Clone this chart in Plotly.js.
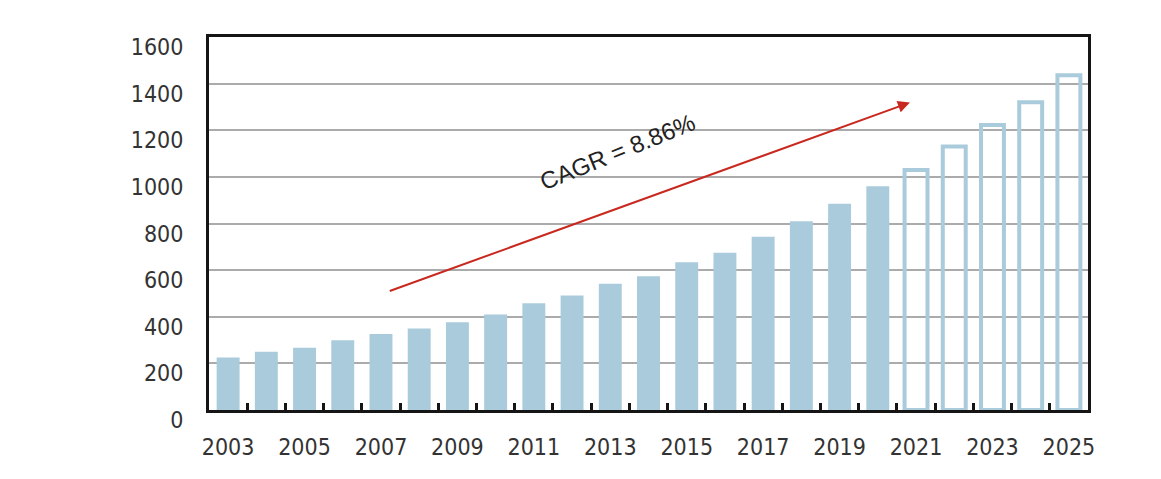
<!DOCTYPE html>
<html>
<head>
<meta charset="utf-8">
<script src="https://cdn.plot.ly/plotly-3.0.1.min.js"></script>
<style>html,body{margin:0;padding:0;background:#fff;}#chart{width:1161px;height:479px;}</style>
</head>
<body>
<div id="chart"></div>
<script>
// Data
const actualYears = [2003,2004,2005,2006,2007,2008,2009,2010,2011,2012,2013,2014,2015,2016,2017,2018,2019,2020];
const actualValues = [225,250,267,299,326,350,376,410,458,491,542,574,634,675,743,810,885,960];
const forecastYears = [2021,2022,2023,2024,2025];
const forecastValues = [1030,1130,1222,1320,1436];
const xTickYears = [2003,2005,2007,2009,2011,2013,2015,2017,2019,2021,2023,2025];
const xTickLabels = ["2003","2005","2007","2009","2011","2013","2015","2017","2019","2021","2023","2025"];
const yTickValues = [0,200,400,600,800,1000,1200,1400,1600];
const cagrLabel = "CAGR = 8.86%";
const cagrArrowFrom = [2007.19, 508];
const cagrArrowTo = [2020.84, 1319];
const cagrLabelAt = [2013.2, 1110];

const barColor = '#a9cbdc';
const axisColor = '#151515';
const tickFont = {family: '"DejaVu Sans Condensed", "Liberation Sans", Arial, sans-serif', size: 23, color: '#333'};

const boundaries = actualYears.concat(forecastYears).slice(1).map(y => y - 0.5);

const traces = [
  {type: 'bar', x: actualYears, y: actualValues, width: 0.6,
   marker: {color: barColor, line: {width: 0}}, hoverinfo: 'x+y', showlegend: false},
  {type: 'bar', x: forecastYears, y: forecastValues, width: 0.6,
   marker: {color: 'rgba(0,0,0,0)', line: {width: 4, color: barColor}}, hoverinfo: 'x+y', showlegend: false}
];

const layout = {
  width: 1161, height: 479,
  margin: {l: 209, r: 73, t: 37, b: 69},
  paper_bgcolor: '#fff', plot_bgcolor: '#fff',
  barmode: 'overlay',
  showlegend: false,
  xaxis: {
    type: 'linear', range: [2002.5, 2025.5],
    tickvals: xTickYears, ticktext: xTickLabels, ticks: '',
    tickfont: tickFont, ticklabelstandoff: 14,
    showgrid: false, zeroline: false,
    showline: true, linewidth: 3, linecolor: axisColor, mirror: true,
    minor: {tickvals: boundaries, ticks: 'inside', ticklen: 7, tickwidth: 3, tickcolor: axisColor, showgrid: false}
  },
  xaxis2: {
    overlaying: 'x', type: 'linear', range: [2002.5, 2025.5], side: 'bottom',
    tickvals: boundaries, ticks: 'outside', ticklen: 3, tickwidth: 3, tickcolor: axisColor,
    showticklabels: false, showgrid: false, zeroline: false, showline: false
  },
  yaxis: {
    range: [0, 1600], tickvals: yTickValues, ticks: '',
    tickfont: tickFont, ticklabelstandoff: 18, ticklabelshift: 10,
    showgrid: true, gridcolor: '#ababab', gridwidth: 2,
    zeroline: false,
    showline: true, linewidth: 3, linecolor: axisColor, mirror: true
  },
  annotations: [
    {x: cagrArrowTo[0], y: cagrArrowTo[1], ax: cagrArrowFrom[0], ay: cagrArrowFrom[1],
     xref: 'x', yref: 'y', axref: 'x', ayref: 'y', text: '',
     showarrow: true, arrowhead: 2, arrowsize: 1.2, arrowwidth: 2, arrowcolor: '#c9281f'},
    {x: cagrLabelAt[0], y: cagrLabelAt[1], xref: 'x', yref: 'y', text: cagrLabel,
     showarrow: false, textangle: -22,
     font: {family: '"Liberation Sans", Arial, sans-serif', size: 24, color: '#222'}}
  ]
};

Plotly.newPlot('chart', traces, layout, {staticPlot: true});
</script>
</body>
</html>
